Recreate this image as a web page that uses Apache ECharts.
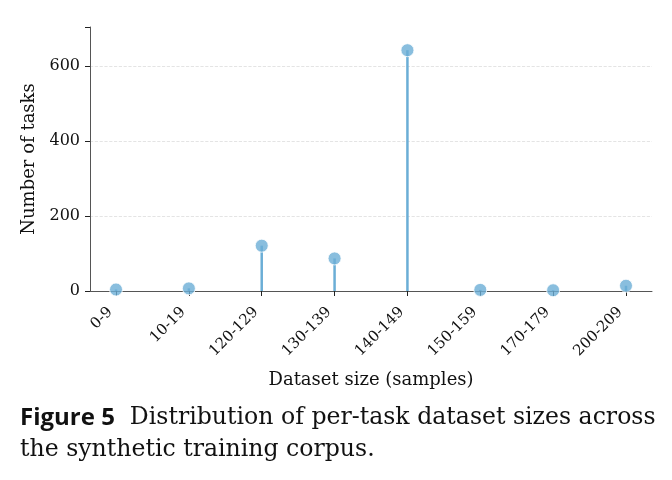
<!DOCTYPE html>
<html lang="en">
<head>
<meta charset="UTF-8">
<title>Dataset sizes</title>
<script src="https://cdn.jsdelivr.net/npm/echarts@6/dist/echarts.min.js"></script>
<style>
    body { margin: 0; background: #fff; }
    #chart { width: 672px; height: 480px; }
</style>
</head>
<body>
<div id="chart"></div>
<script>
    const sizeBins = ['0-9', '10-19', '120-129', '130-139', '140-149', '150-159', '170-179', '200-209'];
    const taskCounts = [4, 7, 121, 87, 643, 3, 2, 14];
    const yTicks = [0, 200, 400, 600];

    const serif = 'DejaVu Serif';
    const stemColor = '#6baed6';
    const points = taskCounts.map((v, i) => [i, v]);

    const chart = echarts.init(document.getElementById('chart'));
    chart.setOption({
        animation: false,
        grid: { left: 90, right: 20, top: 27, bottom: 189 },
        xAxis: {
            type: 'value',
            min: -0.357,
            max: 7.357,
            splitLine: { show: false },
            axisLine: { onZero: false, lineStyle: { color: '#555', width: 1 } },
            axisTick: {
                show: true,
                customValues: sizeBins.map((_, i) => i),
                length: 5,
                lineStyle: { color: '#222' }
            },
            axisLabel: {
                customValues: sizeBins.map((_, i) => i),
                formatter: v => sizeBins[Math.round(v)],
                rotate: 45,
                fontFamily: serif,
                fontSize: 15,
                color: '#111',
                margin: 13,
                padding: [0, 8, 0, 0]
            },
            name: 'Dataset size (samples)',
            nameLocation: 'middle',
            nameGap: 80,
            nameTextStyle: { fontFamily: serif, fontSize: 18, color: '#111' }
        },
        yAxis: {
            type: 'value',
            min: 0,
            max: 705,
            interval: 200,
            axisLine: { show: true, onZero: false, lineStyle: { color: '#555', width: 1 } },
            axisTick: { show: true, length: 5, lineStyle: { color: '#222' } },
            axisLabel: {
                fontFamily: serif,
                fontSize: 16,
                color: '#111',
                margin: 10,
                formatter: v => (yTicks.includes(v) ? String(v) : '')
            },
            splitLine: {
                show: true,
                showMaxLine: false,
                lineStyle: { color: '#ddd', type: 'dashed', width: 0.8 }
            },
            name: 'Number of tasks',
            nameLocation: 'middle',
            nameGap: 52,
            nameTextStyle: { fontFamily: serif, fontSize: 18, color: '#111' }
        },
        series: [
            {
                type: 'bar',
                data: points,
                barWidth: 2.5,
                itemStyle: { color: stemColor },
                z: 2
            },
            {
                type: 'scatter',
                data: points,
                symbolSize: 13,
                itemStyle: { color: stemColor, borderColor: '#fff', borderWidth: 1 },
                z: 3
            }
        ],
        graphic: [
            {
                type: 'text',
                left: 20,
                top: 402,
                style: {
                    text: '{b|Figure 5}  Distribution of per-task dataset sizes across\nthe synthetic training corpus.',
                    rich: {
                        b: { fontFamily: 'Open Sans', fontWeight: 'bold', fontSize: 24, fill: '#111' }
                    },
                    font: '23.6px "DejaVu Serif"',
                    fill: '#111',
                    lineHeight: 32
                }
            }
        ]
    });
</script>
</body>
</html>
